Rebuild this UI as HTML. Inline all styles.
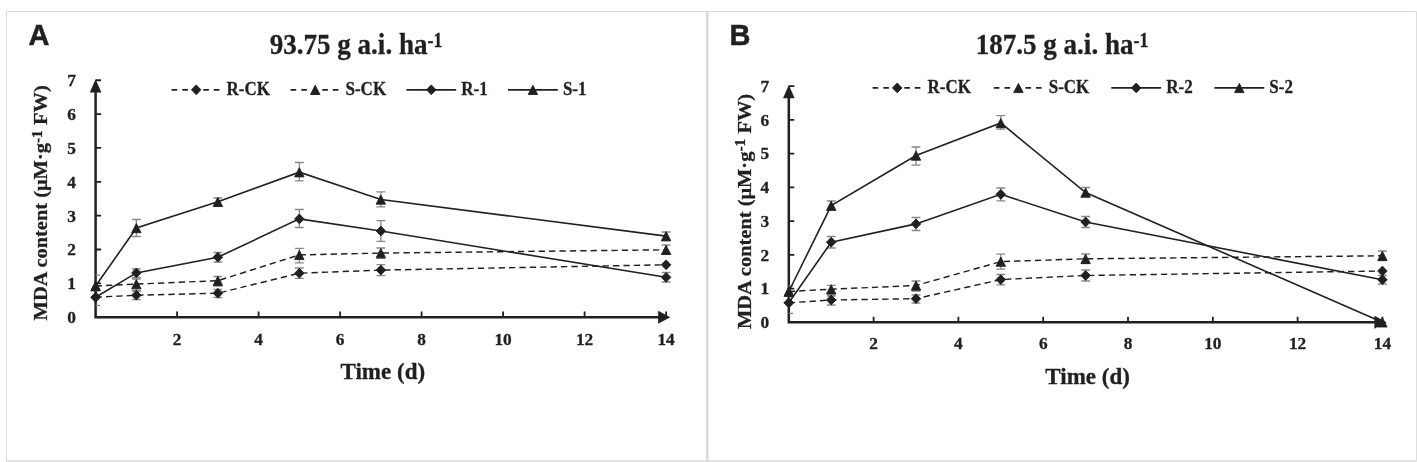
<!DOCTYPE html>
<html><head><meta charset="utf-8"><title>MDA content</title>
<style>
html,body{margin:0;padding:0;background:#fff;}
body{width:1417px;height:462px;overflow:hidden;position:relative;font-family:"Liberation Serif",serif;}
svg{position:absolute;left:0;top:0;display:block;will-change:transform;}
text{font-family:"Liberation Serif",serif;font-weight:bold;fill:#231f20;stroke:#231f20;stroke-width:0.3px;}
.tk{font-size:17.5px;}
.lg{font-size:18.3px;}
.tt{font-size:30.4px;}
.sup{font-size:20px;}
.sup2{font-size:15.5px;}
.xl{font-size:23px;}
.yl{font-size:20.45px;}
.pl{font-family:"Liberation Sans",sans-serif;font-weight:bold;font-size:29px;stroke:#231f20;stroke-width:0.5px;}
</style></head><body>
<svg width="1417" height="462" viewBox="0 0 1417 462">
<rect x="0" y="0" width="1417" height="462" fill="#fff"/>
<!-- frames -->
<path d="M6.5 11.5H1416.5V460" stroke="#dcdde0" stroke-width="1" fill="none"/>
<path d="M6.5 11.5V461" stroke="#dcdde0" stroke-width="1" fill="none"/>
<rect x="6" y="460" width="1411" height="2" fill="#e2e3e5"/>
<rect x="706" y="11" width="2.6" height="451" fill="#dcdde0"/>
<path d="M95.6 86.25V317.2H662.1" stroke="#231f20" stroke-width="2.5" fill="none" stroke-linejoin="miter"/>
<path d="M95.6 79.25L101.4 92.55H89.8Z" fill="#231f20"/>
<path d="M670.3 317.2L658.1 310.7V323.7Z" fill="#231f20"/>
<path d="M95.6 283.35h5.5M95.6 249.5h5.5M95.6 215.65h5.5M95.6 181.8h5.5M95.6 147.95h5.5M95.6 114.1h5.5M95.6 80.25h5.5M177.1 317.2v-5.6M258.6 317.2v-5.6M340.1 317.2v-5.6M421.6 317.2v-5.6M503.1 317.2v-5.6M584.6 317.2v-5.6M666.1 317.2v-5.6" stroke="#231f20" stroke-width="1.8" fill="none"/>
<text transform="translate(76 323.1) scale(0.99 1)" text-anchor="end" class="tk">0</text>
<text transform="translate(76 289.25) scale(0.99 1)" text-anchor="end" class="tk">1</text>
<text transform="translate(76 255.4) scale(0.99 1)" text-anchor="end" class="tk">2</text>
<text transform="translate(76 221.55) scale(0.99 1)" text-anchor="end" class="tk">3</text>
<text transform="translate(76 187.7) scale(0.99 1)" text-anchor="end" class="tk">4</text>
<text transform="translate(76 153.85) scale(0.99 1)" text-anchor="end" class="tk">5</text>
<text transform="translate(76 120) scale(0.99 1)" text-anchor="end" class="tk">6</text>
<text transform="translate(76 86.15) scale(0.99 1)" text-anchor="end" class="tk">7</text>
<text transform="translate(177.1 345.15) scale(0.99 1)" text-anchor="middle" class="tk">2</text>
<text transform="translate(258.6 345.15) scale(0.99 1)" text-anchor="middle" class="tk">4</text>
<text transform="translate(340.1 345.15) scale(0.99 1)" text-anchor="middle" class="tk">6</text>
<text transform="translate(421.6 345.15) scale(0.99 1)" text-anchor="middle" class="tk">8</text>
<text transform="translate(503.1 345.15) scale(0.99 1)" text-anchor="middle" class="tk">10</text>
<text transform="translate(584.6 345.15) scale(0.99 1)" text-anchor="middle" class="tk">12</text>
<text transform="translate(666.1 345.15) scale(0.99 1)" text-anchor="middle" class="tk">14</text>
<path d="M95.6 289h4.4M95.6 305.4h4.4" stroke="#85878a" stroke-width="1.3" fill="none"/>
<path d="M136.35 291V299.6M131.95 291H140.75M131.95 299.6H140.75" stroke="#85878a" stroke-width="1.3" fill="none"/>
<path d="M217.85 289.5V297.5M213.45 289.5H222.25M213.45 297.5H222.25" stroke="#85878a" stroke-width="1.3" fill="none"/>
<path d="M299.35 268V278.4M294.95 268H303.75M294.95 278.4H303.75" stroke="#85878a" stroke-width="1.3" fill="none"/>
<path d="M380.85 264.6V275.6M376.45 264.6H385.25M376.45 275.6H385.25" stroke="#85878a" stroke-width="1.3" fill="none"/>
<path d="M95.6 275.1h4.4M95.6 297h4.4" stroke="#85878a" stroke-width="1.3" fill="none"/>
<path d="M136.35 279V290.5M131.95 279H140.75M131.95 290.5H140.75" stroke="#85878a" stroke-width="1.3" fill="none"/>
<path d="M217.85 276.5V286M213.45 276.5H222.25M213.45 286H222.25" stroke="#85878a" stroke-width="1.3" fill="none"/>
<path d="M299.35 248.3V262.8M294.95 248.3H303.75M294.95 262.8H303.75" stroke="#85878a" stroke-width="1.3" fill="none"/>
<path d="M380.85 248V258.3M376.45 248H385.25M376.45 258.3H385.25" stroke="#85878a" stroke-width="1.3" fill="none"/>
<path d="M666.1 245V254M661.7 245H670.5M661.7 254H670.5" stroke="#85878a" stroke-width="1.3" fill="none"/>
<path d="M136.35 269V277.5M131.95 269H140.75M131.95 277.5H140.75" stroke="#85878a" stroke-width="1.3" fill="none"/>
<path d="M217.85 252.5V262M213.45 252.5H222.25M213.45 262H222.25" stroke="#85878a" stroke-width="1.3" fill="none"/>
<path d="M299.35 209.5V227.5M294.95 209.5H303.75M294.95 227.5H303.75" stroke="#85878a" stroke-width="1.3" fill="none"/>
<path d="M380.85 220.6V241.4M376.45 220.6H385.25M376.45 241.4H385.25" stroke="#85878a" stroke-width="1.3" fill="none"/>
<path d="M666.1 272.5V282M661.7 272.5H670.5M661.7 282H670.5" stroke="#85878a" stroke-width="1.3" fill="none"/>
<path d="M136.35 219.5V236.5M131.95 219.5H140.75M131.95 236.5H140.75" stroke="#85878a" stroke-width="1.3" fill="none"/>
<path d="M217.85 198V206M213.45 198H222.25M213.45 206H222.25" stroke="#85878a" stroke-width="1.3" fill="none"/>
<path d="M299.35 162.5V180.8M294.95 162.5H303.75M294.95 180.8H303.75" stroke="#85878a" stroke-width="1.3" fill="none"/>
<path d="M380.85 191.9V206.8M376.45 191.9H385.25M376.45 206.8H385.25" stroke="#85878a" stroke-width="1.3" fill="none"/>
<path d="M666.1 232V240.5M661.7 232H670.5M661.7 240.5H670.5" stroke="#85878a" stroke-width="1.3" fill="none"/>
<polyline points="95.6,297.2 136.35,295.2 217.85,293.2 299.35,273.2 380.85,270.1 666.1,264.8" stroke="#231f20" stroke-width="1.45" fill="none" stroke-dasharray="6.3 4.1"/>
<polyline points="95.6,286 136.35,284.1 217.85,280.7 299.35,254.9 380.85,253.1 666.1,249.8" stroke="#231f20" stroke-width="1.45" fill="none" stroke-dasharray="6.3 4.1"/>
<polyline points="95.6,297.2 136.35,272.9 217.85,257.2 299.35,218.9 380.85,231 666.1,277.3" stroke="#231f20" stroke-width="1.6" fill="none"/>
<polyline points="95.6,286 136.35,228 217.85,201.8 299.35,172.2 380.85,199.5 666.1,236.1" stroke="#231f20" stroke-width="1.6" fill="none"/>
<path d="M90.85 297.2L95.6 292.3L100.35 297.2L95.6 302.1Z" fill="#231f20" stroke="#231f20" stroke-width="0.9" stroke-linejoin="round"/>
<path d="M131.6 295.2L136.35 290.3L141.1 295.2L136.35 300.1Z" fill="#231f20" stroke="#231f20" stroke-width="0.9" stroke-linejoin="round"/>
<path d="M213.1 293.2L217.85 288.3L222.6 293.2L217.85 298.1Z" fill="#231f20" stroke="#231f20" stroke-width="0.9" stroke-linejoin="round"/>
<path d="M294.6 273.2L299.35 268.3L304.1 273.2L299.35 278.1Z" fill="#231f20" stroke="#231f20" stroke-width="0.9" stroke-linejoin="round"/>
<path d="M376.1 270.1L380.85 265.2L385.6 270.1L380.85 275Z" fill="#231f20" stroke="#231f20" stroke-width="0.9" stroke-linejoin="round"/>
<path d="M661.35 264.8L666.1 259.9L670.85 264.8L666.1 269.7Z" fill="#231f20" stroke="#231f20" stroke-width="0.9" stroke-linejoin="round"/>
<path d="M90.9 290.7L95.6 281.5L100.3 290.7Z" fill="#231f20" stroke="#231f20" stroke-width="0.9" stroke-linejoin="round"/>
<path d="M131.65 288.8L136.35 279.6L141.05 288.8Z" fill="#231f20" stroke="#231f20" stroke-width="0.9" stroke-linejoin="round"/>
<path d="M213.15 285.4L217.85 276.2L222.55 285.4Z" fill="#231f20" stroke="#231f20" stroke-width="0.9" stroke-linejoin="round"/>
<path d="M294.65 259.6L299.35 250.4L304.05 259.6Z" fill="#231f20" stroke="#231f20" stroke-width="0.9" stroke-linejoin="round"/>
<path d="M376.15 257.8L380.85 248.6L385.55 257.8Z" fill="#231f20" stroke="#231f20" stroke-width="0.9" stroke-linejoin="round"/>
<path d="M661.4 254.5L666.1 245.3L670.8 254.5Z" fill="#231f20" stroke="#231f20" stroke-width="0.9" stroke-linejoin="round"/>
<path d="M90.85 297.2L95.6 292.3L100.35 297.2L95.6 302.1Z" fill="#231f20" stroke="#231f20" stroke-width="0.9" stroke-linejoin="round"/>
<path d="M131.6 272.9L136.35 268L141.1 272.9L136.35 277.8Z" fill="#231f20" stroke="#231f20" stroke-width="0.9" stroke-linejoin="round"/>
<path d="M213.1 257.2L217.85 252.3L222.6 257.2L217.85 262.1Z" fill="#231f20" stroke="#231f20" stroke-width="0.9" stroke-linejoin="round"/>
<path d="M294.6 218.9L299.35 214L304.1 218.9L299.35 223.8Z" fill="#231f20" stroke="#231f20" stroke-width="0.9" stroke-linejoin="round"/>
<path d="M376.1 231L380.85 226.1L385.6 231L380.85 235.9Z" fill="#231f20" stroke="#231f20" stroke-width="0.9" stroke-linejoin="round"/>
<path d="M661.35 277.3L666.1 272.4L670.85 277.3L666.1 282.2Z" fill="#231f20" stroke="#231f20" stroke-width="0.9" stroke-linejoin="round"/>
<path d="M90.9 290.7L95.6 281.5L100.3 290.7Z" fill="#231f20" stroke="#231f20" stroke-width="0.9" stroke-linejoin="round"/>
<path d="M131.65 232.7L136.35 223.5L141.05 232.7Z" fill="#231f20" stroke="#231f20" stroke-width="0.9" stroke-linejoin="round"/>
<path d="M213.15 206.5L217.85 197.3L222.55 206.5Z" fill="#231f20" stroke="#231f20" stroke-width="0.9" stroke-linejoin="round"/>
<path d="M294.65 176.9L299.35 167.7L304.05 176.9Z" fill="#231f20" stroke="#231f20" stroke-width="0.9" stroke-linejoin="round"/>
<path d="M376.15 204.2L380.85 195L385.55 204.2Z" fill="#231f20" stroke="#231f20" stroke-width="0.9" stroke-linejoin="round"/>
<path d="M661.4 240.8L666.1 231.6L670.8 240.8Z" fill="#231f20" stroke="#231f20" stroke-width="0.9" stroke-linejoin="round"/>
<path d="M171.6 89.8h5.6M182.3 89.8h5.6M203.3 89.8h5.6M213.8 89.8h5.6" stroke="#231f20" stroke-width="1.7"/>
<path d="M191.45 89.8L196.2 84.9L200.95 89.8L196.2 94.7Z" fill="#231f20" stroke="#231f20" stroke-width="0.9" stroke-linejoin="round"/>
<text transform="translate(226.5 95.3) scale(0.93 1)" class="lg">R-CK</text>
<path d="M290.6 89.8h5.6M301.3 89.8h5.6M322.3 89.8h5.6M332.8 89.8h5.6" stroke="#231f20" stroke-width="1.7"/>
<path d="M310.5 94.5L315.2 85.3L319.9 94.5Z" fill="#231f20" stroke="#231f20" stroke-width="0.9" stroke-linejoin="round"/>
<text transform="translate(345.5 95.3) scale(0.93 1)" class="lg">S-CK</text>
<path d="M406.4 89.8h49.8" stroke="#231f20" stroke-width="1.8"/>
<path d="M426.55 89.8L431.3 84.9L436.05 89.8L431.3 94.7Z" fill="#231f20" stroke="#231f20" stroke-width="0.9" stroke-linejoin="round"/>
<text transform="translate(461.3 95.3) scale(0.93 1)" class="lg">R-1</text>
<path d="M508 89.8h49.8" stroke="#231f20" stroke-width="1.8"/>
<path d="M528.2 94.5L532.9 85.3L537.6 94.5Z" fill="#231f20" stroke="#231f20" stroke-width="0.9" stroke-linejoin="round"/>
<text transform="translate(562.9 95.3) scale(0.93 1)" class="lg">S-1</text>
<text transform="translate(356 54.3) scale(0.89 1)" text-anchor="middle" class="tt">93.75 g a.i. ha<tspan class="sup" dy="-7.7">-1</tspan></text>
<text transform="translate(382.8 378.5) scale(1.0 1)" text-anchor="middle" class="xl">Time (d)</text>
<text transform="translate(47.3 202.85) rotate(-90) scale(1 0.93)" text-anchor="middle" class="yl">MDA content (μM·g<tspan class="sup2" dy="-5.8">-1</tspan><tspan dy="5.8"> FW)</tspan></text>
<text transform="translate(28.6 44.7) scale(1 1)" class="pl">A</text>
<path d="M788.8 92.05V322.3H1378.4" stroke="#231f20" stroke-width="2.5" fill="none" stroke-linejoin="miter"/>
<path d="M788.8 85.05L794.6 98.35H783Z" fill="#231f20"/>
<path d="M1386.6 322.3L1374.4 315.8V328.8Z" fill="#231f20"/>
<path d="M788.8 288.55h5.5M788.8 254.8h5.5M788.8 221.05h5.5M788.8 187.3h5.5M788.8 153.55h5.5M788.8 119.8h5.5M788.8 86.05h5.5M873.6 322.3v-5.6M958.4 322.3v-5.6M1043.2 322.3v-5.6M1128 322.3v-5.6M1212.8 322.3v-5.6M1297.6 322.3v-5.6M1382.4 322.3v-5.6" stroke="#231f20" stroke-width="1.8" fill="none"/>
<text transform="translate(769.2 328.2) scale(0.99 1)" text-anchor="end" class="tk">0</text>
<text transform="translate(769.2 294.45) scale(0.99 1)" text-anchor="end" class="tk">1</text>
<text transform="translate(769.2 260.7) scale(0.99 1)" text-anchor="end" class="tk">2</text>
<text transform="translate(769.2 226.95) scale(0.99 1)" text-anchor="end" class="tk">3</text>
<text transform="translate(769.2 193.2) scale(0.99 1)" text-anchor="end" class="tk">4</text>
<text transform="translate(769.2 159.45) scale(0.99 1)" text-anchor="end" class="tk">5</text>
<text transform="translate(769.2 125.7) scale(0.99 1)" text-anchor="end" class="tk">6</text>
<text transform="translate(769.2 91.95) scale(0.99 1)" text-anchor="end" class="tk">7</text>
<text transform="translate(873.6 349.25) scale(0.99 1)" text-anchor="middle" class="tk">2</text>
<text transform="translate(958.4 349.25) scale(0.99 1)" text-anchor="middle" class="tk">4</text>
<text transform="translate(1043.2 349.25) scale(0.99 1)" text-anchor="middle" class="tk">6</text>
<text transform="translate(1128 349.25) scale(0.99 1)" text-anchor="middle" class="tk">8</text>
<text transform="translate(1212.8 349.25) scale(0.99 1)" text-anchor="middle" class="tk">10</text>
<text transform="translate(1297.6 349.25) scale(0.99 1)" text-anchor="middle" class="tk">12</text>
<text transform="translate(1382.4 349.25) scale(0.99 1)" text-anchor="middle" class="tk">14</text>
<path d="M788.8 293h4.4M788.8 313.3h4.4" stroke="#85878a" stroke-width="1.3" fill="none"/>
<path d="M831.2 296V305M826.8 296H835.6M826.8 305H835.6" stroke="#85878a" stroke-width="1.3" fill="none"/>
<path d="M916 295V303M911.6 295H920.4M911.6 303H920.4" stroke="#85878a" stroke-width="1.3" fill="none"/>
<path d="M1000.8 274.5V284.8M996.4 274.5H1005.2M996.4 284.8H1005.2" stroke="#85878a" stroke-width="1.3" fill="none"/>
<path d="M1085.6 270V281M1081.2 270H1090M1081.2 281H1090" stroke="#85878a" stroke-width="1.3" fill="none"/>
<path d="M788.8 285.6h4.4M788.8 297h4.4" stroke="#85878a" stroke-width="1.3" fill="none"/>
<path d="M831.2 285.4V295M826.8 285.4H835.6M826.8 295H835.6" stroke="#85878a" stroke-width="1.3" fill="none"/>
<path d="M916 281V291M911.6 281H920.4M911.6 291H920.4" stroke="#85878a" stroke-width="1.3" fill="none"/>
<path d="M1000.8 254.2V269.2M996.4 254.2H1005.2M996.4 269.2H1005.2" stroke="#85878a" stroke-width="1.3" fill="none"/>
<path d="M1085.6 254V263.5M1081.2 254H1090M1081.2 263.5H1090" stroke="#85878a" stroke-width="1.3" fill="none"/>
<path d="M1382.4 251V260.5M1378 251H1386.8M1378 260.5H1386.8" stroke="#85878a" stroke-width="1.3" fill="none"/>
<path d="M831.2 236.5V248M826.8 236.5H835.6M826.8 248H835.6" stroke="#85878a" stroke-width="1.3" fill="none"/>
<path d="M916 217.5V230.5M911.6 217.5H920.4M911.6 230.5H920.4" stroke="#85878a" stroke-width="1.3" fill="none"/>
<path d="M1000.8 188V200.8M996.4 188H1005.2M996.4 200.8H1005.2" stroke="#85878a" stroke-width="1.3" fill="none"/>
<path d="M1085.6 216.5V227.5M1081.2 216.5H1090M1081.2 227.5H1090" stroke="#85878a" stroke-width="1.3" fill="none"/>
<path d="M1382.4 275.5V284M1378 275.5H1386.8M1378 284H1386.8" stroke="#85878a" stroke-width="1.3" fill="none"/>
<path d="M831.2 201V210M826.8 201H835.6M826.8 210H835.6" stroke="#85878a" stroke-width="1.3" fill="none"/>
<path d="M916 147V165.2M911.6 147H920.4M911.6 165.2H920.4" stroke="#85878a" stroke-width="1.3" fill="none"/>
<path d="M1000.8 115.7V129.2M996.4 115.7H1005.2M996.4 129.2H1005.2" stroke="#85878a" stroke-width="1.3" fill="none"/>
<path d="M1085.6 187.5V196.5M1081.2 187.5H1090M1081.2 196.5H1090" stroke="#85878a" stroke-width="1.3" fill="none"/>
<polyline points="788.8,302.8 831.2,300 916,298.7 1000.8,279.6 1085.6,275.5 1382.4,271" stroke="#231f20" stroke-width="1.45" fill="none" stroke-dasharray="6.3 4.1"/>
<polyline points="788.8,291.5 831.2,289.2 916,285.5 1000.8,261.6 1085.6,258.8 1382.4,255.8" stroke="#231f20" stroke-width="1.45" fill="none" stroke-dasharray="6.3 4.1"/>
<polyline points="788.8,302.8 831.2,242.2 916,223.9 1000.8,194.3 1085.6,222 1382.4,279.7" stroke="#231f20" stroke-width="1.6" fill="none"/>
<polyline points="788.8,291.5 831.2,205.6 916,155.5 1000.8,123 1085.6,192.5 1382.4,322.3" stroke="#231f20" stroke-width="1.6" fill="none"/>
<path d="M784.05 302.8L788.8 297.9L793.55 302.8L788.8 307.7Z" fill="#231f20" stroke="#231f20" stroke-width="0.9" stroke-linejoin="round"/>
<path d="M826.45 300L831.2 295.1L835.95 300L831.2 304.9Z" fill="#231f20" stroke="#231f20" stroke-width="0.9" stroke-linejoin="round"/>
<path d="M911.25 298.7L916 293.8L920.75 298.7L916 303.6Z" fill="#231f20" stroke="#231f20" stroke-width="0.9" stroke-linejoin="round"/>
<path d="M996.05 279.6L1000.8 274.7L1005.55 279.6L1000.8 284.5Z" fill="#231f20" stroke="#231f20" stroke-width="0.9" stroke-linejoin="round"/>
<path d="M1080.85 275.5L1085.6 270.6L1090.35 275.5L1085.6 280.4Z" fill="#231f20" stroke="#231f20" stroke-width="0.9" stroke-linejoin="round"/>
<path d="M1377.65 271L1382.4 266.1L1387.15 271L1382.4 275.9Z" fill="#231f20" stroke="#231f20" stroke-width="0.9" stroke-linejoin="round"/>
<path d="M784.1 296.2L788.8 287L793.5 296.2Z" fill="#231f20" stroke="#231f20" stroke-width="0.9" stroke-linejoin="round"/>
<path d="M826.5 293.9L831.2 284.7L835.9 293.9Z" fill="#231f20" stroke="#231f20" stroke-width="0.9" stroke-linejoin="round"/>
<path d="M911.3 290.2L916 281L920.7 290.2Z" fill="#231f20" stroke="#231f20" stroke-width="0.9" stroke-linejoin="round"/>
<path d="M996.1 266.3L1000.8 257.1L1005.5 266.3Z" fill="#231f20" stroke="#231f20" stroke-width="0.9" stroke-linejoin="round"/>
<path d="M1080.9 263.5L1085.6 254.3L1090.3 263.5Z" fill="#231f20" stroke="#231f20" stroke-width="0.9" stroke-linejoin="round"/>
<path d="M1377.7 260.5L1382.4 251.3L1387.1 260.5Z" fill="#231f20" stroke="#231f20" stroke-width="0.9" stroke-linejoin="round"/>
<path d="M784.05 302.8L788.8 297.9L793.55 302.8L788.8 307.7Z" fill="#231f20" stroke="#231f20" stroke-width="0.9" stroke-linejoin="round"/>
<path d="M826.45 242.2L831.2 237.3L835.95 242.2L831.2 247.1Z" fill="#231f20" stroke="#231f20" stroke-width="0.9" stroke-linejoin="round"/>
<path d="M911.25 223.9L916 219L920.75 223.9L916 228.8Z" fill="#231f20" stroke="#231f20" stroke-width="0.9" stroke-linejoin="round"/>
<path d="M996.05 194.3L1000.8 189.4L1005.55 194.3L1000.8 199.2Z" fill="#231f20" stroke="#231f20" stroke-width="0.9" stroke-linejoin="round"/>
<path d="M1080.85 222L1085.6 217.1L1090.35 222L1085.6 226.9Z" fill="#231f20" stroke="#231f20" stroke-width="0.9" stroke-linejoin="round"/>
<path d="M1377.65 279.7L1382.4 274.8L1387.15 279.7L1382.4 284.6Z" fill="#231f20" stroke="#231f20" stroke-width="0.9" stroke-linejoin="round"/>
<path d="M784.1 296.2L788.8 287L793.5 296.2Z" fill="#231f20" stroke="#231f20" stroke-width="0.9" stroke-linejoin="round"/>
<path d="M826.5 210.3L831.2 201.1L835.9 210.3Z" fill="#231f20" stroke="#231f20" stroke-width="0.9" stroke-linejoin="round"/>
<path d="M911.3 160.2L916 151L920.7 160.2Z" fill="#231f20" stroke="#231f20" stroke-width="0.9" stroke-linejoin="round"/>
<path d="M996.1 127.7L1000.8 118.5L1005.5 127.7Z" fill="#231f20" stroke="#231f20" stroke-width="0.9" stroke-linejoin="round"/>
<path d="M1080.9 197.2L1085.6 188L1090.3 197.2Z" fill="#231f20" stroke="#231f20" stroke-width="0.9" stroke-linejoin="round"/>
<path d="M1377.7 327L1382.4 317.8L1387.1 327Z" fill="#231f20" stroke="#231f20" stroke-width="0.9" stroke-linejoin="round"/>
<path d="M872.6 87.9h5.6M883.3 87.9h5.6M904.3 87.9h5.6M914.8 87.9h5.6" stroke="#231f20" stroke-width="1.7"/>
<path d="M892.45 87.9L897.2 83L901.95 87.9L897.2 92.8Z" fill="#231f20" stroke="#231f20" stroke-width="0.9" stroke-linejoin="round"/>
<text transform="translate(927.5 93.4) scale(0.93 1)" class="lg">R-CK</text>
<path d="M993.8 87.9h5.6M1004.5 87.9h5.6M1025.5 87.9h5.6M1036 87.9h5.6" stroke="#231f20" stroke-width="1.7"/>
<path d="M1013.7 92.6L1018.4 83.4L1023.1 92.6Z" fill="#231f20" stroke="#231f20" stroke-width="0.9" stroke-linejoin="round"/>
<text transform="translate(1048.7 93.4) scale(0.93 1)" class="lg">S-CK</text>
<path d="M1111.3 87.9h49.8" stroke="#231f20" stroke-width="1.8"/>
<path d="M1131.45 87.9L1136.2 83L1140.95 87.9L1136.2 92.8Z" fill="#231f20" stroke="#231f20" stroke-width="0.9" stroke-linejoin="round"/>
<text transform="translate(1166.2 93.4) scale(0.93 1)" class="lg">R-2</text>
<path d="M1214.4 87.9h49.8" stroke="#231f20" stroke-width="1.8"/>
<path d="M1234.6 92.6L1239.3 83.4L1244 92.6Z" fill="#231f20" stroke="#231f20" stroke-width="0.9" stroke-linejoin="round"/>
<text transform="translate(1269.3 93.4) scale(0.93 1)" class="lg">S-2</text>
<text transform="translate(1062 54.3) scale(0.89 1)" text-anchor="middle" class="tt">187.5 g a.i. ha<tspan class="sup" dy="-7.7">-1</tspan></text>
<text transform="translate(1087.6 384) scale(1.0 1)" text-anchor="middle" class="xl">Time (d)</text>
<text transform="translate(750.8 211.4) rotate(-90) scale(1 0.93)" text-anchor="middle" class="yl">MDA content (μM·g<tspan class="sup2" dy="-5.8">-1</tspan><tspan dy="5.8"> FW)</tspan></text>
<text transform="translate(729.5 45) scale(1 1)" class="pl">B</text>
</svg>
</body></html>
